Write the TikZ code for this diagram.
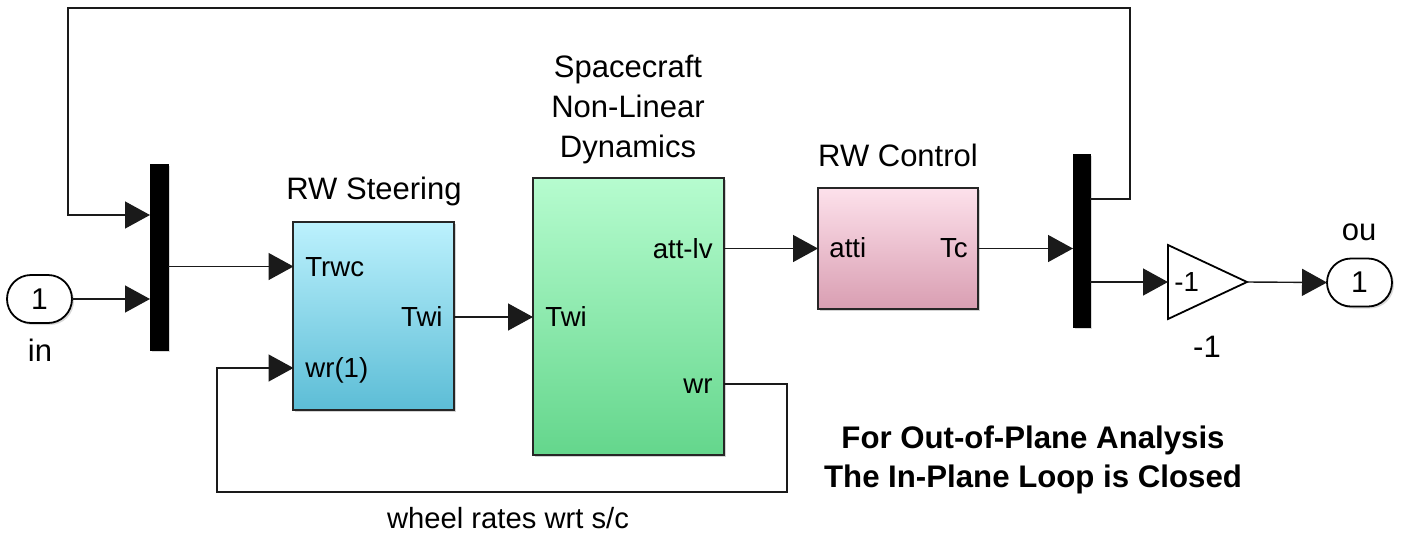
\documentclass[tikz,border=0pt]{standalone}
\usepackage{fontspec}
\setmainfont{Liberation Sans}
\usetikzlibrary{arrows.meta,shadows,shapes.misc}
\definecolor{line}{HTML}{1A1A1A}
\definecolor{stTop}{HTML}{BCF1FD}
\definecolor{stBot}{HTML}{5CBDD6}
\definecolor{dyTop}{HTML}{B6FCCF}
\definecolor{dyBot}{HTML}{64D68C}
\definecolor{ctTop}{HTML}{FDE1EB}
\definecolor{ctBot}{HTML}{D99EB2}
\tikzset{
  sig/.style={draw=line, line width=0.7pt, -{Triangle[length=12.5pt,width=13.5pt]}},
  wire/.style={draw=line, line width=0.7pt},
  block/.style={draw=black!85, line width=0.9pt, rectangle, inner sep=0pt, outer sep=0pt,
     drop shadow={opacity=0.35, shadow xshift=1.2pt, shadow yshift=-1.2pt}},
  muxbar/.style={fill=black, draw=black, rectangle, inner sep=0pt, outer sep=0pt,
     drop shadow={opacity=0.3, shadow xshift=1.2pt, shadow yshift=-1.2pt}},
  port/.style={draw=black, line width=0.9pt, rounded rectangle, inner sep=0pt, outer sep=0pt,
     minimum width=32.5pt, minimum height=24pt, font=\fontsize{15}{18}\selectfont,
     drop shadow={opacity=0.3, shadow xshift=1pt, shadow yshift=-1pt}, fill=white},
  title/.style={font=\fontsize{15.5}{20}\selectfont, anchor=mid, inner sep=0pt, yshift=-2.2pt},
  plab/.style={font=\fontsize{13.8}{16}\selectfont, inner sep=0pt, yshift=-2pt},
  note/.style={font=\bfseries\fontsize{15.6}{20}\selectfont, anchor=mid, inner sep=0pt, yshift=-2.6pt},
}
\begin{document}
\begin{tikzpicture}[x=0.5pt,y=-0.5pt]
\useasboundingbox (0,0) rectangle (1403,537);

% blocks
\node[port] (inp) at (39.5,299) {1};
\node[port] (outp) at (1359.5,282.5) {1};
\node[muxbar, minimum width=9pt, minimum height=93pt] (mux1) at (159,257) {};
\node[muxbar, minimum width=8.5pt, minimum height=86.5pt] (mux2) at (1081.5,240.5) {};
\node[block, top color=stTop, bottom color=stBot, minimum width=80.5pt, minimum height=94pt] (steer) at (373.5,316) {};
\node[block, top color=dyTop, bottom color=dyBot, minimum width=95.5pt, minimum height=138.5pt] (dyn) at (628.5,316.5) {};
\node[block, top color=ctTop, bottom color=ctBot, minimum width=80pt, minimum height=60.5pt] (ctrl) at (898,248.5) {};
\draw[line width=0.9pt, fill=white] (1168,245) -- (1168,319) -- (1247,282) -- cycle;
\coordinate (gainIn) at (1168,282);
\coordinate (gainOut) at (1247,282);

% titles / labels
\node[title] (tSteer) at (374,190) {RW Steering};
\node[title] (tDyn1) at (628,68) {Spacecraft};
\node[title] (tDyn2) at (628,108) {Non-Linear};
\node[title] (tDyn3) at (628,148) {Dynamics};
\node[title] (tCtrl) at (898,157) {RW Control};
\node[title] (tIn) at (40,352) {in};
\node[title] (tOut) at (1359,231) {ou};
\node[title] (tGain) at (1207,348) {-1};
\node[plab, anchor=mid west] (gainTxt) at (1174,282) {-1};

\node[plab, anchor=mid west] (pTrwc) at (305,267) {Trwc};
\node[plab, anchor=mid east] (pTwiO) at (443,317) {Twi};
\node[plab, anchor=mid west] (pWr1) at (305,368) {wr(1)};
\node[plab, anchor=mid west] (pTwiI) at (545,317) {Twi};
\node[plab, anchor=mid east] (pAtt) at (713,249) {att-lv};
\node[plab, anchor=mid east] (pWr) at (713,384) {wr};
\node[plab, anchor=mid west] (pAtti) at (829,248.5) {atti};
\node[plab, anchor=mid east] (pTc) at (968,248.5) {Tc};

\node[font=\fontsize{14.6}{18}\selectfont, anchor=mid, inner sep=0pt, yshift=-1.8pt] (wlab) at (508,520) {wheel rates wrt s/c};
\node[note] (n1) at (1033,438) {For Out-of-Plane Analysis};
\node[note] (n2) at (1033,477) {The In-Plane Loop is Closed};

% port coordinates
\coordinate (m1i1) at (150,215);
\coordinate (m2o1) at (1090,199);
\coordinate (m2o2) at (1090,282);
\coordinate (stIn1) at (293.5,266.5);
\coordinate (stIn2) at (293.5,368);
\coordinate (stOut) at (453.5,317);
\coordinate (dyIn) at (533,317);
\coordinate (dyOut1) at (724,248.5);
\coordinate (dyOut2) at (724,384);
\coordinate (ctIn) at (818,248.5);
\coordinate (ctOut) at (978,248.5);
\coordinate (fbTR) at (1130,8);
\coordinate (fbTL) at (68,8);
\coordinate (fbBR) at (787,492);
\coordinate (fbBL) at (217,492);

% connectors
\draw[sig] (inp.east) -- (mux1.west |- inp.east);
\draw[sig] (m2o1) -| (fbTR) -- (fbTL) |- (m1i1);
\draw[sig] (mux1.east |- stIn1) -- (stIn1);
\draw[sig] (stOut) -- (dyIn);
\draw[sig] (dyOut1) -- (ctIn);
\draw[sig] (ctOut) -- (mux2.west |- ctOut);
\draw[sig] (m2o2) -- (gainIn);
\draw[sig] (gainOut) -- (outp.west);
\draw[sig] (dyOut2) -| (fbBR) -- (fbBL) |- (stIn2);
\end{tikzpicture}
\end{document}
